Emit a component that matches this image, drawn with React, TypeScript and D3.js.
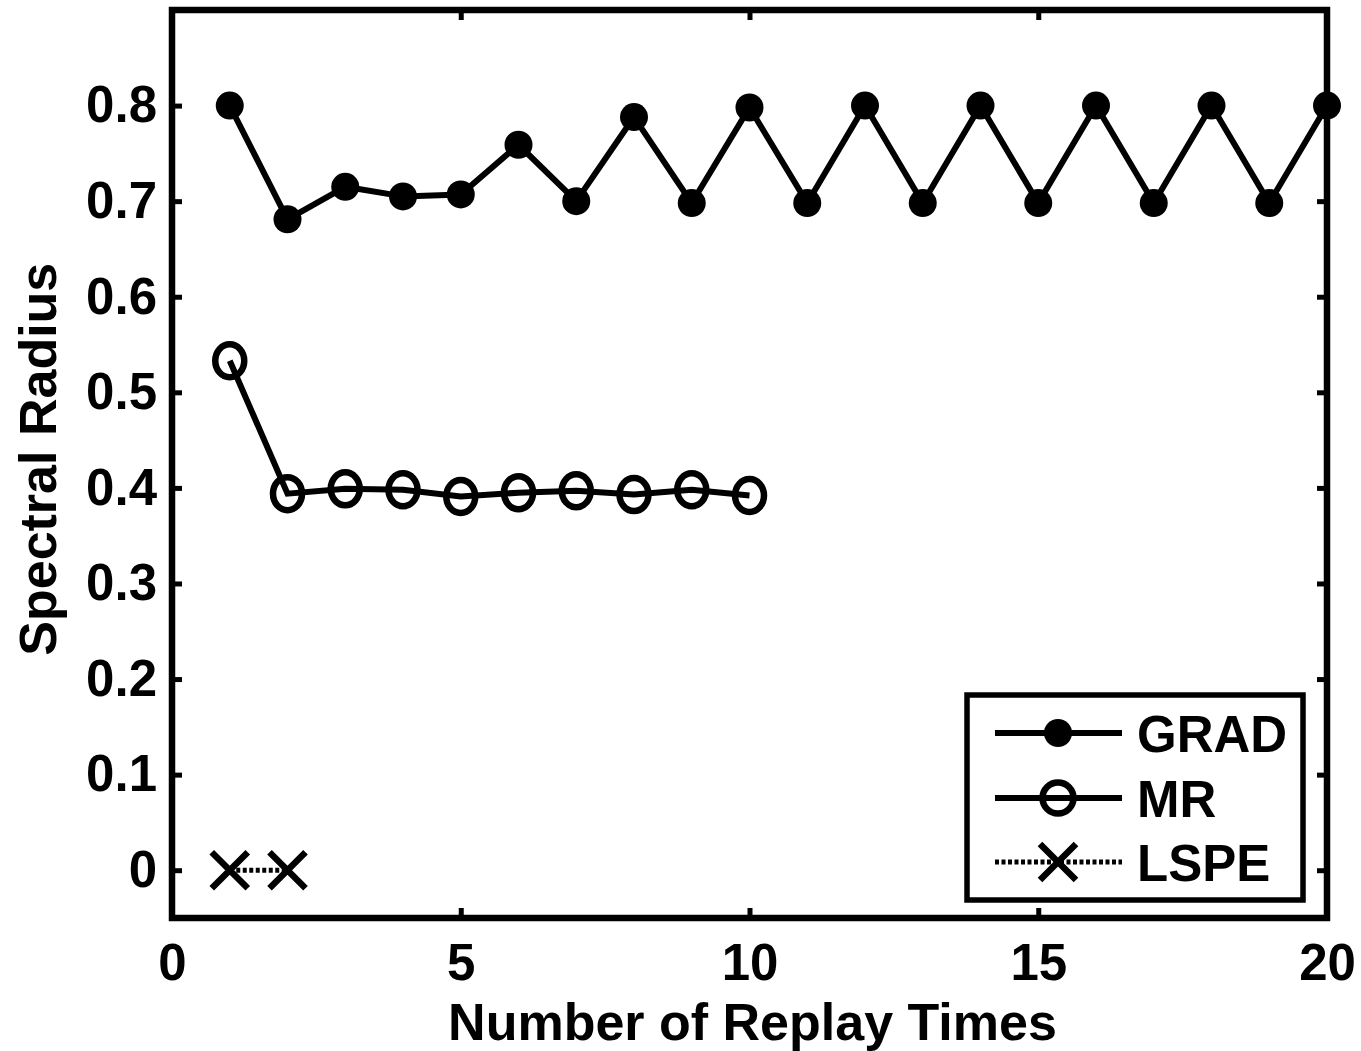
import React, { useEffect, useRef } from 'react'
import * as d3 from 'd3'

const gradX = [1, 2, 3, 4, 5, 6, 7, 8, 9, 10, 11, 12, 13, 14, 15, 16, 17, 18, 19, 20]
const gradValues = [0.8, 0.681, 0.715, 0.705, 0.707, 0.759, 0.7, 0.788, 0.698, 0.798, 0.698, 0.8, 0.698, 0.8, 0.698, 0.8, 0.698, 0.8, 0.698, 0.8]
const mrX = [1, 2, 3, 4, 5, 6, 7, 8, 9, 10]
const mrValues = [0.533, 0.394, 0.399, 0.398, 0.391, 0.395, 0.397, 0.393, 0.398, 0.392]
const lspeX = [1, 2]
const lspeValues = [0, 0]
const xTicks = [0, 5, 10, 15, 20]
const yTicks = [0, 0.1, 0.2, 0.3, 0.4, 0.5, 0.6, 0.7, 0.8]
const legendLabels = ['GRAD', 'MR', 'LSPE']

const FONT = '"Liberation Sans", Arial, sans-serif'

const drawCross = (g, cx, cy, r) => {
  g.append('path')
    .attr('d', `M${cx - r},${cy - r}L${cx + r},${cy + r}M${cx - r},${cy + r}L${cx + r},${cy - r}`)
    .attr('stroke', '#000')
    .attr('stroke-width', 6.5)
    .attr('fill', 'none')
}

const makeChart = (node) => {
  const width = 1361
  const height = 1051
  const left = 172
  const right = 1327
  const top = 10
  const bottom = 918

  const x = d3.scaleLinear().domain([0, 20]).range([left, right])
  const y = d3.scaleLinear().domain([-0.05, 0.9]).range([bottom, top])

  const svg = d3.select(node)
  svg.selectAll('*').remove()
  svg.attr('width', width).attr('height', height)

  // axes (inner ticks on all four sides)
  const styleAxis = (g) => {
    g.select('.domain').remove()
    g.selectAll('.tick line').attr('stroke', '#000').attr('stroke-width', 5)
    g.selectAll('.tick text')
      .attr('fill', '#000')
      .attr('font-family', FONT)
      .attr('font-weight', 'bold')
      .attr('font-size', 51)
  }

  svg.append('g')
    .attr('transform', `translate(0,${bottom})`)
    .call(d3.axisBottom(x).tickValues(xTicks).tickSizeInner(-10).tickSizeOuter(0).tickPadding(26))
    .call(styleAxis)

  svg.append('g')
    .attr('transform', `translate(0,${top})`)
    .call(d3.axisTop(x).tickValues(xTicks).tickSizeInner(-10).tickSizeOuter(0).tickFormat(() => ''))
    .call(styleAxis)

  svg.append('g')
    .attr('transform', `translate(${left},0)`)
    .call(d3.axisLeft(y).tickValues(yTicks).tickSizeInner(-10).tickSizeOuter(0).tickPadding(15).tickFormat((d) => `${d}`))
    .call(styleAxis)

  svg.append('g')
    .attr('transform', `translate(${right},0)`)
    .call(d3.axisRight(y).tickValues(yTicks).tickSizeInner(-10).tickSizeOuter(0).tickFormat(() => ''))
    .call(styleAxis)

  svg.append('rect')
    .attr('x', left)
    .attr('y', top)
    .attr('width', right - left)
    .attr('height', bottom - top)
    .attr('fill', 'none')
    .attr('stroke', '#000')
    .attr('stroke-width', 6.5)

  // axis titles
  svg.append('text')
    .attr('x', (left + right) / 2 + 3)
    .attr('y', 1040)
    .attr('text-anchor', 'middle')
    .attr('font-family', FONT)
    .attr('font-weight', 'bold')
    .attr('font-size', 52)
    .text('Number of Replay Times')

  svg.append('text')
    .attr('transform', `translate(56,${y(0.43)}) rotate(-90)`)
    .attr('text-anchor', 'middle')
    .attr('font-family', FONT)
    .attr('font-weight', 'bold')
    .attr('font-size', 52)
    .text('Spectral Radius')

  const line = d3.line().x((d) => x(d[0])).y((d) => y(d[1]))

  // GRAD
  const grad = gradX.map((d, i) => [d, gradValues[i]])
  svg.append('path')
    .attr('d', line(grad))
    .attr('fill', 'none')
    .attr('stroke', '#000')
    .attr('stroke-width', 6)
    .attr('stroke-linejoin', 'round')
  svg.append('g')
    .selectAll('circle')
    .data(grad)
    .enter()
    .append('circle')
    .attr('cx', (d) => x(d[0]))
    .attr('cy', (d) => y(d[1]))
    .attr('r', 14)
    .attr('fill', '#000')

  // MR
  const mr = mrX.map((d, i) => [d, mrValues[i]])
  svg.append('path')
    .attr('d', line(mr))
    .attr('fill', 'none')
    .attr('stroke', '#000')
    .attr('stroke-width', 6)
  svg.append('g')
    .selectAll('ellipse')
    .data(mr)
    .enter()
    .append('ellipse')
    .attr('cx', (d) => x(d[0]))
    .attr('cy', (d) => y(d[1]))
    .attr('rx', 14.5)
    .attr('ry', 16.5)
    .attr('fill', 'none')
    .attr('stroke', '#000')
    .attr('stroke-width', 6.5)

  // LSPE
  const lspe = lspeX.map((d, i) => [d, lspeValues[i]])
  svg.append('path')
    .attr('d', line(lspe))
    .attr('fill', 'none')
    .attr('stroke', '#000')
    .attr('stroke-width', 5)
    .attr('stroke-dasharray', '4 2.5')
  const crosses = svg.append('g')
  lspe.forEach((d) => drawCross(crosses, x(d[0]), y(d[1]), 18))

  // legend
  const legend = svg.append('g')
  legend.append('rect')
    .attr('x', 967)
    .attr('y', 695)
    .attr('width', 336)
    .attr('height', 205)
    .attr('fill', '#fff')
    .attr('stroke', '#000')
    .attr('stroke-width', 5.5)

  const rows = [733, 798, 862]
  legendLabels.forEach((label, i) => {
    const ry = rows[i]
    const l = legend.append('line')
      .attr('x1', 995)
      .attr('x2', 1122)
      .attr('y1', ry)
      .attr('y2', ry)
      .attr('stroke', '#000')
      .attr('stroke-width', i === 2 ? 5 : 6)
    if (i === 2) l.attr('stroke-dasharray', '4 2.5')

    if (i === 0) {
      legend.append('circle').attr('cx', 1058).attr('cy', ry).attr('r', 14).attr('fill', '#000')
    } else if (i === 1) {
      legend.append('circle').attr('cx', 1058).attr('cy', ry).attr('r', 15.5)
        .attr('fill', 'none').attr('stroke', '#000').attr('stroke-width', 6.5)
    } else {
      drawCross(legend, 1058, ry, 18)
    }

    legend.append('text')
      .attr('x', 1137)
      .attr('y', ry + 19)
      .attr('font-family', FONT)
      .attr('font-weight', 'bold')
      .attr('font-size', 51)
      .text(label)
  })
}

const App = () => {
  const ref = useRef(null)

  useEffect(() => {
    if (ref.current) makeChart(ref.current)
  }, [])

  return (
    <svg
      ref={ref}
      style={{ position: 'absolute', left: 0, top: 0, background: '#fff' }}
    ></svg>
  )
}

export default App
